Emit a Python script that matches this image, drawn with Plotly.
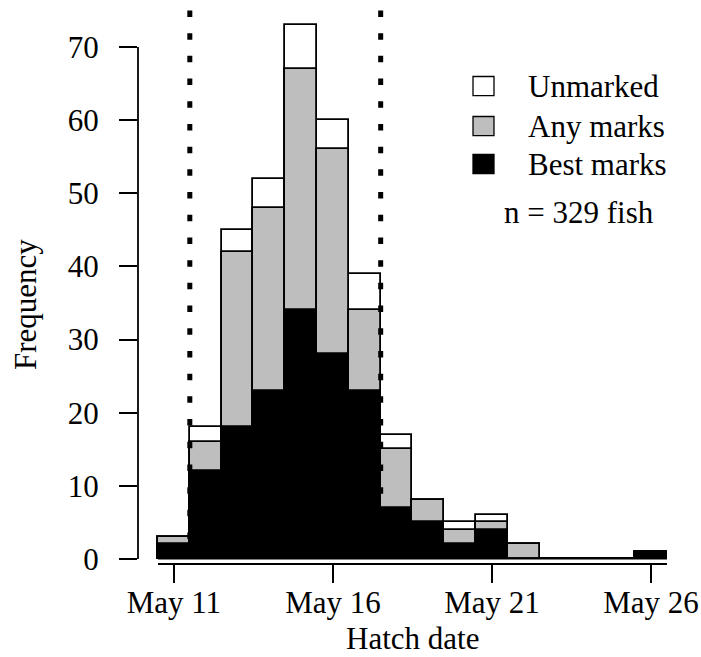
import plotly.graph_objects as go

# Hatch dates (day of May) and counts per day
days = [11, 12, 13, 14, 15, 16, 17, 18, 19, 20, 21, 22, 23, 24, 25, 26]
unmarked_total = [3, 18, 45, 52, 73, 60, 39, 17, 8, 5, 6, 2, 0, 0, 0, 1]
any_marks = [3, 16, 42, 48, 67, 56, 34, 15, 8, 4, 5, 2, 0, 0, 0, 1]
best_marks = [2, 12, 18, 23, 34, 28, 23, 7, 5, 2, 4, 0, 0, 0, 0, 1]

window_bounds = [11.5, 17.5]
tick_days = [11, 16, 21, 26]
tick_labels = ["May 11", "May 16", "May 21", "May 26"]
y_ticks = [0, 10, 20, 30, 40, 50, 60, 70]

legend_labels = ["Unmarked", "Any marks", "Best marks"]
legend_fills = ["white", "#bebebe", "black"]

FONT = "Liberation Serif, Times New Roman, serif"
FS = 31
LW = 1.8

fig = go.Figure()
for vals, fill in zip([unmarked_total, any_marks, best_marks], legend_fills):
    fig.add_trace(go.Bar(
        x=days, y=vals, width=1,
        marker=dict(color=fill, line=dict(color="black", width=LW)),
        showlegend=False, hoverinfo="x+y",
    ))

lo, hi = days[0] - 0.5, days[-1] + 0.5
shapes = [
    # baseline of the histogram
    dict(type="line", xref="x", yref="y", x0=lo, x1=hi, y0=0, y1=0,
         line=dict(color="black", width=1.2)),
    # x axis line spanning the bins
    dict(type="line", xref="x", yref="paper", x0=lo, x1=hi, y0=0, y1=0,
         line=dict(color="black", width=LW)),
    # y axis line from first to last tick
    dict(type="line", xref="paper", yref="y", x0=0, x1=0,
         y0=y_ticks[0], y1=y_ticks[-1], line=dict(color="black", width=LW)),
]
for xb in window_bounds:
    shapes.append(dict(type="line", xref="x", yref="y", x0=xb, x1=xb,
                       y0=75, y1=0,
                       line=dict(color="black", width=5, dash="6.5px,16.2px")))

# legend drawn as boxes with labels
row_y = [0.8628, 0.7906, 0.7220]
half_h = 0.0172
annotations = []
for lab, fill, yc in zip(legend_labels, legend_fills, row_y):
    shapes.append(dict(type="rect", xref="paper", yref="paper",
                       x0=0.6069, x1=0.6449, y0=yc - half_h, y1=yc + half_h,
                       fillcolor=fill, line=dict(color="black", width=1.3)))
    annotations.append(dict(xref="paper", yref="paper", x=0.7030, y=yc,
                            xanchor="left", yanchor="middle", showarrow=False,
                            text=lab, font=dict(family=FONT, size=FS, color="black")))
annotations.append(dict(xref="paper", yref="paper", x=0.6600, y=0.6336,
                        xanchor="left", yanchor="middle", showarrow=False,
                        text=f"n = {sum(unmarked_total)} fish",
                        font=dict(family=FONT, size=FS, color="black")))
annotations.append(dict(xref="paper", yref="paper", x=-0.2047, y=0.4675,
                        xanchor="center", yanchor="middle", showarrow=False,
                        textangle=-90, text="Frequency",
                        font=dict(family=FONT, size=FS, color="black")))
annotations.append(dict(xref="paper", yref="paper", x=0.4973, y=-0.1679,
                        xanchor="center", yanchor="bottom", showarrow=False,
                        borderpad=0, text="Hatch date",
                        font=dict(family=FONT, size=FS, color="black")))

fig.update_layout(
    width=701, height=657,
    margin=dict(l=138, r=11, t=10, b=93, autoexpand=False),
    paper_bgcolor="white", plot_bgcolor="white",
    barmode="overlay", bargap=0,
    shapes=shapes, annotations=annotations,
    xaxis=dict(range=[9.871, 27.224], tickmode="array", tickvals=tick_days,
               ticktext=tick_labels, ticks="outside", ticklen=18,
               tickwidth=LW, tickcolor="black", showgrid=False, zeroline=False,
               showline=False, ticklabelstandoff=-7, automargin=False,
               tickfont=dict(family=FONT, size=FS, color="black")),
    yaxis=dict(range=[-0.684, 75.06], tickmode="array", tickvals=y_ticks,
               ticks="outside", ticklen=18, tickwidth=LW, tickcolor="black",
               showgrid=False, zeroline=False, showline=False,
               ticklabelstandoff=14, automargin=False,
               tickfont=dict(family=FONT, size=FS, color="black")),
)

fig.write_html("out.html")
